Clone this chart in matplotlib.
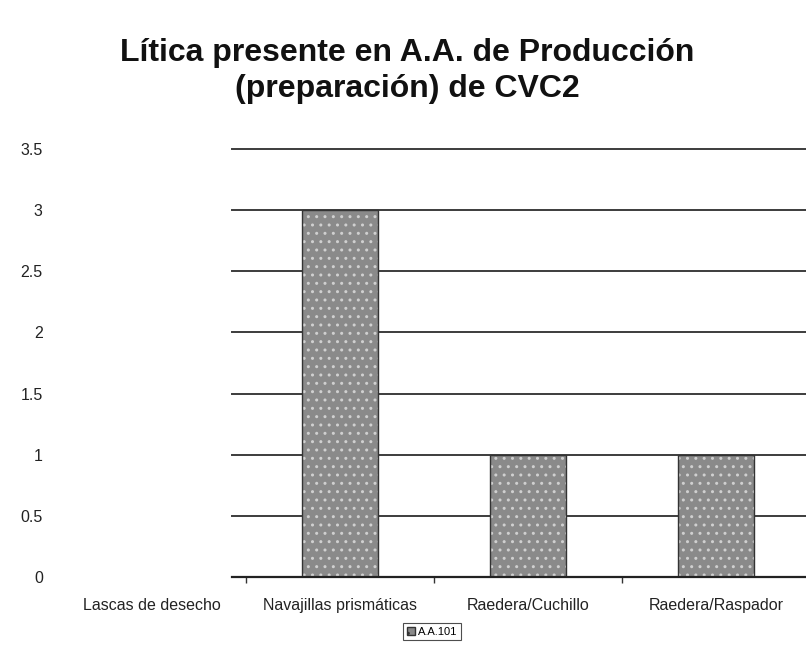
import numpy as np
import matplotlib.pyplot as plt
from matplotlib.patches import Patch

plt.rcParams['font.family'] = ['Liberation Sans', 'DejaVu Sans']

# -------------------------------
# Data
categorias = ['Lascas de desecho', 'Navajillas prismáticas',
              'Raedera/Cuchillo', 'Raedera/Raspador']
valores = [0, 3, 1, 1]
serie = 'A.A.101'
y_ticks = [0, 0.5, 1, 1.5, 2, 2.5, 3, 3.5]

# -------------------------------
fig = plt.figure(figsize=(8.06, 6.48), dpi=100)
ax = fig.add_axes([0.072, 0.1096, 0.933, 0.6605])

x = np.arange(len(categorias))
ax.set_xlim(-0.5, len(categorias) - 0.5)
ax.set_ylim(0, 3.5)

# gridlines only start part way into the plot area
x0 = 0.231
for yv in y_ticks[1:]:
    ax.axhline(yv, xmin=x0, xmax=1, color='#3c3c3c', lw=1.4, zorder=1,
               clip_on=False)
ax.axhline(0, xmin=x0, xmax=1, color='#222222', lw=1.6, zorder=3,
           clip_on=False)

# bars: dotted grey fill (empty categories get no outline)
edges = ['#333333' if v > 0 else 'none' for v in valores]
ax.bar(x, valores, width=0.405, color='#8a8a8a', hatch='..',
       edgecolor='#d0d0d0', linewidth=0, zorder=2)
ax.bar(x, valores, width=0.405, fill=False, edgecolor=edges,
       linewidth=1.0, zorder=2)

for s in ax.spines.values():
    s.set_visible(False)

ax.set_yticks(y_ticks)
ax.set_yticklabels(['0', '0.5', '1', '1.5', '2', '2.5', '3', '3.5'])
ax.tick_params(axis='y', length=0, pad=11, labelsize=11.5, colors='#222222')

ax.set_xticks(x)
ax.set_xticklabels(categorias)
ax.tick_params(axis='x', which='major', length=0, pad=15, labelsize=11.5,
               colors='#222222')
ax.set_xticks([0.5, 1.5, 2.5], minor=True)
ax.tick_params(axis='x', which='minor', length=4, width=1, color='#333333',
               direction='out')

fig.text(0.505, 0.891, 'Lítica presente en A.A. de Producción\n(preparación) de CVC2',
         ha='center', va='center', fontsize=23, fontweight='bold',
         linespacing=1.25, color='#111111')

handle = Patch(facecolor='#8a8a8a', hatch='..', edgecolor='#333333')
leg = fig.legend([handle], [serie], loc='center',
                 bbox_to_anchor=(0.536, 0.025), fontsize=8, frameon=True,
                 fancybox=False, handlelength=0.7, handleheight=0.7,
                 handletextpad=0.3, borderpad=0.3, borderaxespad=0)
leg.get_frame().set_edgecolor('#222222')
leg.get_frame().set_linewidth(0.8)

fig.savefig('out.png', dpi=100)
